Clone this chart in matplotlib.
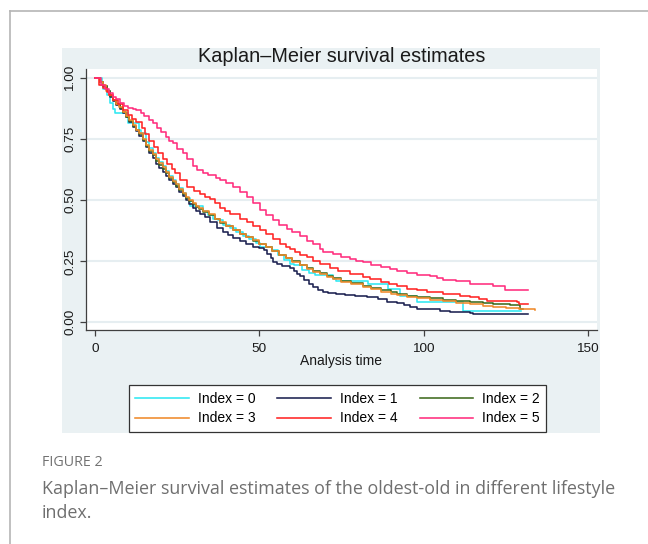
import matplotlib
matplotlib.use("Agg")
import matplotlib.pyplot as plt
from matplotlib.lines import Line2D
from matplotlib.patches import Rectangle

# ---------------- data ----------------
labels = ["Index = 0", "Index = 1", "Index = 2", "Index = 3", "Index = 4", "Index = 5"]
colors = ["#2EE8F2", "#1C2150", "#3E6A1E", "#EF8A2A", "#FF2424", "#FF2D7D"]

t0 = [0, 2.0, 2.5, 3.5, 4.5, 5.5, 6.0, 10.0, 13.5, 14.0, 15.5, 16.5, 17.6, 18.6, 19.6, 20.6,
      21.6, 22.6, 23.6, 24.7, 25.7, 26.7, 27.7, 29.0, 33.0, 34.5, 36.0, 37.5, 39.0, 41.0,
      43.0, 45.0, 47.0, 49.0, 50.2, 53.8, 55.8, 57.5, 59.3, 60.5, 63.0, 65.0, 67.0, 72.5,
      73.5, 83.0, 89.3, 92.8, 97.9, 112.1, 129.8]
s0 = [1.0, 0.975, 0.955, 0.93, 0.90, 0.875, 0.856, 0.815, 0.788, 0.775, 0.74, 0.715, 0.695,
      0.672, 0.655, 0.64, 0.62, 0.60, 0.583, 0.567, 0.55, 0.53, 0.51, 0.475, 0.455, 0.44,
      0.425, 0.42, 0.40, 0.385, 0.37, 0.355, 0.34, 0.325, 0.308, 0.295, 0.274, 0.255, 0.24,
      0.233, 0.215, 0.20, 0.192, 0.178, 0.171, 0.157, 0.135, 0.108, 0.082, 0.046, 0.046]

t1 = [0, 1.5, 2.5, 3.5, 4.5, 5.5, 6.5, 7.5, 8.5, 9.5, 10.5, 11.5, 12.5, 13.5, 14.5, 15.5,
      16.5, 17.6, 18.6, 19.6, 20.6, 21.6, 22.6, 23.6, 24.7, 25.7, 26.7, 27.7, 28.7, 29.7,
      30.7, 32.0, 33.5, 35.0, 37.0, 39.0, 40.5, 42.1, 44.0, 46.0, 48.0, 50.0, 51.5, 52.5,
      53.5, 54.3, 55.5, 57.0, 59.3, 60.5, 61.5, 62.4, 63.5, 65.0, 66.5, 68.0, 69.5, 71.0,
      73.5, 76.0, 79.0, 82.7, 86.0, 89.0, 91.8, 94.0, 96.0, 97.9, 101.0, 105.0, 108.0,
      110.0, 114.0, 115.1, 131.9]
s1 = [1.0, 0.985, 0.968, 0.948, 0.925, 0.905, 0.89, 0.875, 0.858, 0.84, 0.822, 0.802, 0.783,
      0.765, 0.742, 0.718, 0.693, 0.672, 0.65, 0.632, 0.615, 0.598, 0.582, 0.568, 0.553,
      0.536, 0.518, 0.50, 0.483, 0.47, 0.458, 0.445, 0.43, 0.412, 0.388, 0.37, 0.358, 0.345,
      0.335, 0.322, 0.31, 0.303, 0.296, 0.28, 0.262, 0.247, 0.24, 0.232, 0.224, 0.21, 0.198,
      0.19, 0.175, 0.158, 0.144, 0.132, 0.123, 0.118, 0.114, 0.111, 0.107, 0.103, 0.095,
      0.085, 0.078, 0.07, 0.062, 0.056, 0.053, 0.048, 0.044, 0.041, 0.037, 0.035, 0.035]

t2 = [0, 1.5, 2.5, 3.5, 4.5, 5.5, 6.5, 7.5, 8.5, 9.5, 10.5, 11.5, 12.5, 13.5, 14.5, 15.5,
      16.5, 17.6, 18.6, 19.6, 20.6, 21.6, 22.6, 23.6, 24.7, 25.7, 26.7, 27.7, 28.7, 29.7,
      30.7, 31.7, 33.0, 34.8, 36.5, 38.0, 40.0, 42.0, 44.0, 46.0, 48.0, 50.0, 52.0, 54.0,
      56.0, 58.0, 60.0, 62.4, 64.5, 66.5, 68.5, 70.5, 72.5, 75.0, 78.0, 81.7, 84.0, 87.0,
      90.0, 92.0, 95.0, 98.0, 102.0, 106.0, 110.0, 114.0, 118.0, 121.0, 126.3, 129.3, 130.3]
s2 = [1.0, 0.985, 0.97, 0.948, 0.928, 0.91, 0.893, 0.878, 0.86, 0.842, 0.826, 0.806, 0.787,
      0.77, 0.746, 0.724, 0.70, 0.684, 0.662, 0.645, 0.628, 0.61, 0.592, 0.576, 0.56, 0.543,
      0.526, 0.51, 0.496, 0.483, 0.473, 0.463, 0.451, 0.438, 0.422, 0.408, 0.393, 0.377,
      0.362, 0.348, 0.335, 0.321, 0.308, 0.292, 0.277, 0.264, 0.25, 0.236, 0.224, 0.21,
      0.201, 0.19, 0.18, 0.17, 0.16, 0.148, 0.14, 0.131, 0.122, 0.116, 0.109, 0.104, 0.099,
      0.093, 0.087, 0.081, 0.078, 0.076, 0.069, 0.055, 0.055]

t3 = [0, 1.5, 2.3, 3.3, 4.4, 5.5, 6.5, 7.4, 8.5, 9.5, 10.4, 11.5, 12.5, 13.5, 14.5, 15.5,
      16.5, 17.6, 18.6, 19.6, 20.6, 21.6, 22.6, 23.6, 24.7, 25.7, 26.7, 27.7, 28.7, 29.7,
      30.7, 31.7, 33.0, 34.8, 36.5, 38.0, 40.0, 42.0, 44.0, 46.0, 48.0, 50.0, 52.0, 54.0,
      56.0, 58.0, 60.0, 62.4, 64.5, 66.5, 68.5, 70.5, 72.5, 75.0, 78.0, 81.7, 84.0, 87.0,
      90.0, 92.0, 95.0, 98.0, 102.0, 106.0, 110.0, 114.0, 118.0, 121.0, 125.0, 129.0, 133.9]
s3 = [1.0, 0.985, 0.972, 0.95, 0.931, 0.91, 0.895, 0.883, 0.862, 0.845, 0.829, 0.81, 0.79,
      0.774, 0.75, 0.728, 0.705, 0.69, 0.668, 0.651, 0.635, 0.615, 0.596, 0.58, 0.565, 0.548,
      0.53, 0.515, 0.50, 0.487, 0.478, 0.468, 0.455, 0.442, 0.425, 0.411, 0.395, 0.378,
      0.363, 0.349, 0.336, 0.322, 0.309, 0.292, 0.276, 0.262, 0.247, 0.233, 0.22, 0.205,
      0.197, 0.186, 0.176, 0.166, 0.156, 0.144, 0.136, 0.126, 0.117, 0.111, 0.104, 0.099,
      0.093, 0.087, 0.08, 0.075, 0.068, 0.062, 0.058, 0.055, 0.052]

t4 = [0, 1.3, 2.5, 3.5, 4.4, 5.5, 7.0, 8.5, 10.0, 11.2, 12.5, 14.2, 15.3, 16.5, 18.0, 19.3,
      20.7, 22.0, 23.3, 24.5, 26.0, 28.0, 30.0, 32.0, 33.5, 35.0, 36.5, 38.0, 39.5, 41.0,
      44.0, 46.2, 48.0, 50.2, 52.0, 54.3, 56.3, 58.0, 59.3, 61.0, 62.4, 64.4, 66.5, 68.5,
      71.5, 74.0, 77.6, 81.7, 83.7, 87.0, 89.5, 91.8, 95.0, 98.0, 101.0, 106.0, 111.0, 114.0,
      117.0, 119.2, 121.2, 128.3, 129.0, 131.9]
s4 = [1.0, 0.972, 0.962, 0.945, 0.93, 0.91, 0.895, 0.872, 0.85, 0.835, 0.82, 0.795, 0.77,
      0.745, 0.72, 0.695, 0.67, 0.65, 0.63, 0.61, 0.585, 0.555, 0.54, 0.525, 0.515, 0.505,
      0.49, 0.47, 0.458, 0.445, 0.425, 0.411, 0.395, 0.377, 0.36, 0.343, 0.322, 0.31, 0.30,
      0.288, 0.277, 0.268, 0.252, 0.237, 0.223, 0.21, 0.199, 0.185, 0.178, 0.165, 0.155,
      0.148, 0.138, 0.131, 0.125, 0.117, 0.107, 0.103, 0.095, 0.089, 0.086, 0.082, 0.073, 0.073]

t5 = [0, 1.8, 3.0, 4.4, 5.5, 6.4, 7.5, 8.9, 10.0, 11.5, 12.5, 14.0, 15.0, 16.3, 17.6, 19.0,
      20.1, 21.5, 22.6, 23.6, 25.0, 26.7, 28.0, 29.7, 31.0, 32.8, 34.5, 36.8, 38.0, 40.0,
      42.1, 44.0, 46.2, 48.0, 50.2, 52.0, 54.3, 56.0, 58.3, 60.0, 62.4, 64.5, 66.4, 68.5,
      69.5, 72.5, 75.0, 77.6, 79.5, 81.7, 84.0, 87.0, 89.8, 91.8, 95.0, 97.9, 101.9, 104.0,
      106.0, 110.0, 114.1, 116.1, 121.2, 124.8, 131.9]
s5 = [1.0, 0.972, 0.955, 0.938, 0.925, 0.915, 0.90, 0.888, 0.88, 0.875, 0.87, 0.858, 0.845,
      0.83, 0.815, 0.795, 0.778, 0.758, 0.745, 0.733, 0.71, 0.692, 0.67, 0.64, 0.625, 0.612,
      0.603, 0.59, 0.582, 0.57, 0.553, 0.535, 0.512, 0.49, 0.462, 0.44, 0.418, 0.40, 0.384,
      0.37, 0.354, 0.335, 0.32, 0.30, 0.29, 0.281, 0.268, 0.258, 0.252, 0.245, 0.236, 0.225,
      0.218, 0.21, 0.20, 0.194, 0.19, 0.182, 0.175, 0.168, 0.158, 0.155, 0.147, 0.133, 0.133]

times = [t0, t1, t2, t3, t4, t5]
surv = [s0, s1, s2, s3, s4, s5]

xticks = [0, 50, 100, 150]
yticks = [0.0, 0.25, 0.5, 0.75, 1.0]
ytick_labels = ["0.00", "0.25", "0.50", "0.75", "1.00"]

title = "Kaplan\u2013Meier survival estimates"
xlabel = "Analysis time"
fig_label = "FIGURE 2"
caption = ["Kaplan\u2013Meier survival estimates of the oldest-old in different lifestyle",
           "index."]

# ---------------- figure ----------------
W, H = 648, 544
fig = plt.figure(figsize=(W / 100, H / 100), dpi=100)
fig.patch.set_facecolor("white")

def fx(px):
    return px / W

def fy(py):
    return 1 - py / H

# card border
fig.add_artist(Line2D([fx(9.5), fx(9.5)], [0, fy(11)], transform=fig.transFigure,
                      color="#b5b5b5", lw=1.2))
fig.add_artist(Line2D([fx(9.5), 1], [fy(11), fy(11)], transform=fig.transFigure,
                      color="#b5b5b5", lw=1.2))

# graph region background
fig.add_artist(Rectangle((fx(62), fy(433)), fx(600) - fx(62), fy(48) - fy(433),
                         transform=fig.transFigure, facecolor="#EAF1F3",
                         edgecolor="none", zorder=-1))

ax = fig.add_axes([fx(86), fy(329.8), fx(597) - fx(86), fy(69.3) - fy(329.8)])
ax.set_facecolor("white")
ax.set_xlim(-2.74, 152.8)
ax.set_ylim(-0.031, 1.037)

for y in yticks:
    ax.axhline(y, color="#E6EEF1", lw=1.5, zorder=1)

handles = []
for t, s, c, lab in zip(times, surv, colors, labels):
    h, = ax.plot(t, s, drawstyle="steps-post", color=c, lw=1.15, label=lab, zorder=3)
    handles.append(h)

for side in ["top", "right"]:
    ax.spines[side].set_visible(False)
for side in ["left", "bottom"]:
    ax.spines[side].set_color("#404040")
    ax.spines[side].set_linewidth(0.9)

ax.set_xticks(xticks)
ax.set_yticks(yticks)
ax.set_yticklabels(ytick_labels)
ax.tick_params(axis="both", direction="out", length=4, width=0.9, color="#404040",
               labelsize=9.7, labelcolor="#1a1a1a")
ax.tick_params(axis="y", pad=3)
ax.tick_params(axis="x", pad=5.5)
for lab in ax.get_yticklabels():
    lab.set_rotation(90)
    lab.set_va("center")
for lab in ax.get_xticklabels() + ax.get_yticklabels():
    lab.set_fontfamily("Liberation Sans")

fig.text(fx(341.5), fy(57), title, ha="center", va="center", fontsize=14.3,
         family="Liberation Sans", color="#1a1a1a")
fig.text(fx(341.5), fy(361), xlabel, ha="center", va="center", fontsize=10,
         family="Liberation Sans", color="#1a1a1a")

order = [0, 3, 1, 4, 2, 5]
leg = fig.legend([handles[i] for i in order], [labels[i] for i in order], ncol=3,
                 loc="center", bbox_to_anchor=(fx(337.5), fy(408.5)),
                 bbox_transform=fig.transFigure,
                 prop={"family": "Liberation Sans", "size": 10},
                 frameon=True, fancybox=False, edgecolor="#333333", framealpha=1,
                 facecolor="white", handlelength=3.85, handletextpad=0.65,
                 columnspacing=1.6, labelspacing=0.42, borderpad=0.45,
                 borderaxespad=0)
leg.get_frame().set_linewidth(0.9)
for ln in leg.get_lines():
    ln.set_linewidth(1.15)

fig.text(fx(42), fy(463), fig_label, ha="left", va="center", fontsize=10.3,
         family="Open Sans", color="#727272")
fig.text(fx(42), fy(489), caption[0], ha="left", va="center", fontsize=12.9,
         family="Open Sans", color="#6f6f6f")
fig.text(fx(42), fy(513), caption[1], ha="left", va="center", fontsize=12.9,
         family="Open Sans", color="#6f6f6f")

fig.savefig("out.png", dpi=100, facecolor="white")
